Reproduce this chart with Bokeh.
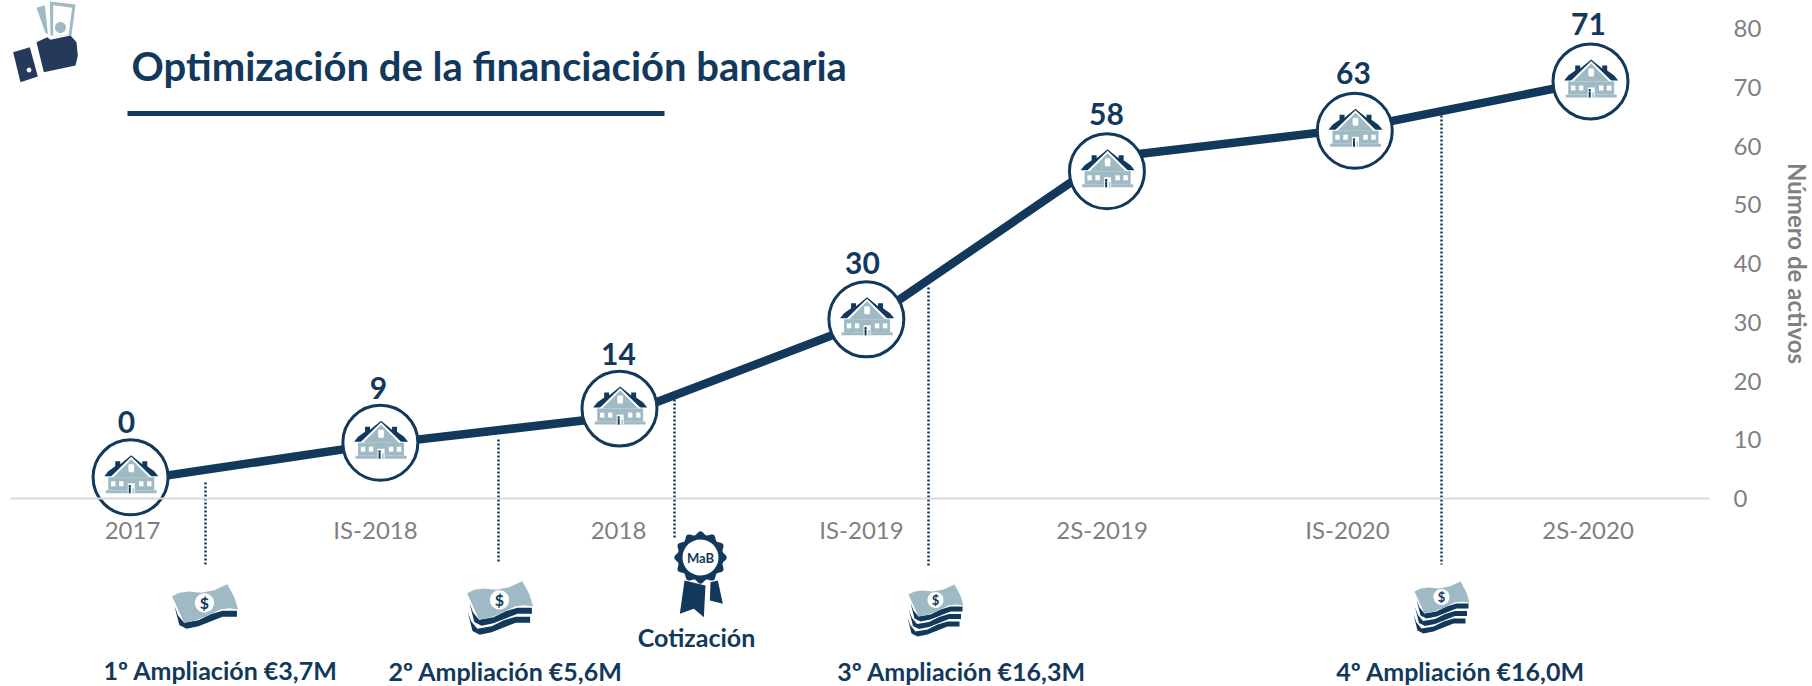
import numpy as np
from bokeh.core.properties import value
from bokeh.embed import file_html
from bokeh.models import FixedTicker, Range1d
from bokeh.plotting import figure
from bokeh.resources import INLINE

# ---- data ----
periods = ["2017", "IS-2018", "2018", "IS-2019", "2S-2019", "IS-2020", "2S-2020"]
tick_positions = [0, 1.0, 2, 3, 3.99, 5, 5.99]
labels = ["0", "9", "14", "30", "58", "63", "71"]
line_values = [3.0, 9.3, 14, 30, 58, 63, 71]
marker_values = [3.6, 9.5, 15.3, 30.5, 55.7, 62.6, 71]
point_x = [-0.008, 1.02, 2.004, 3.02, 4.01, 5.03, 6.0]
y_ticks = [0, 10, 20, 30, 40, 50, 60, 70, 80]
events = ["1º Ampliación €3,7M", "2º Ampliación €5,6M", "Cotización",
          "3º Ampliación €16,3M", "4º Ampliación €16,0M"]

NAVY = "#12395B"
LIGHT = "#9FBAC5"
GREY = "#7F7F7F"
HAND = "#25395A"

# page-pixel to data helpers, used for decoration only
X0, XS, Y0, YS = 132.0, 243.0, 498.0, 5.875
def dx(px): return (np.asarray(px, float) - X0) / XS
def dy(py): return (Y0 - np.asarray(py, float)) / YS

p = figure(width=1812, height=686, output_backend="svg", toolbar_location=None,
           x_range=Range1d(float(dx(0)), float(dx(1812))),
           y_range=Range1d(float(dy(686)), float(dy(0))),
           y_axis_location="right", min_border=0,
           min_border_left=0, min_border_right=0, min_border_top=0, min_border_bottom=0,
           background_fill_color="white", border_fill_color="white",
           outline_line_color=None)
p.grid.visible = False

xa = p.xaxis[0]
xa.fixed_location = 0
xa.bounds = (float(dx(10)), float(dx(1709)))
xa.ticker = FixedTicker(ticks=tick_positions)
xa.major_label_overrides = {t: s for t, s in zip(tick_positions, periods)}
xa.axis_line_color = "#D9D9D9"
xa.axis_line_width = 2
xa.major_tick_line_color = None
xa.minor_tick_line_color = None
xa.major_tick_out = 0
xa.major_tick_in = 0
xa.major_label_standoff = 16
xa.major_label_text_font = "Lato"
xa.major_label_text_font_size = "24px"
xa.major_label_text_color = GREY

ya = p.yaxis[0]
ya.fixed_location = float(dx(1709))
ya.ticker = FixedTicker(ticks=y_ticks)
ya.axis_line_color = None
ya.major_tick_line_color = None
ya.minor_tick_line_color = None
ya.major_tick_out = 0
ya.major_tick_in = 0
ya.major_label_standoff = 24
ya.major_label_text_font = "Lato"
ya.major_label_text_font_size = "24px"
ya.major_label_text_color = GREY

# y axis title
p.text([float(dx(1797))], [40], text=["Número de activos"], angle=-np.pi / 2,
       text_font=value("Lato"), text_font_style="bold", text_font_size="24px",
       text_color=GREY, text_align="center", text_baseline="middle")

# main line
p.line(point_x, line_values, line_color=NAVY, line_width=8.5)

# dotted leaders
lead_x = [205, 498, 674, 928, 1441]
lead_top = [482, 439, 399, 287, 115]
lead_bot = [564, 562, 538, 565, 564]
p.segment(dx(lead_x), dy(lead_top), dx(lead_x), dy(lead_bot),
          line_color=NAVY, line_width=2.5, line_dash="2 2")

# markers
p.scatter(point_x, marker_values, size=75, marker="circle", fill_color="white",
          line_color=NAVY, line_width=3)

def poly(pts, ox, oy, s=1.0, color=NAVY):
    a = np.array(pts, float)
    p.patch(dx(ox + a[:, 0] * s), dy(oy + a[:, 1] * s), fill_color=color, line_color=None)

def disc(cx, cy, r, color):
    t = np.linspace(0, 2 * np.pi, 40)
    p.patch(dx(cx + r * np.cos(t)), dy(cy + r * np.sin(t)), fill_color=color, line_color=None)

def house(cx, cy):
    ox = cx + 0.7
    poly([(-27, -1), (-23, -6), (-16, -11), (-16, -16), (-11, -16), (-11, -13), (0, -22),
          (11, -13), (11, -16), (16, -16), (16, -11), (23, -6), (27, -1)], ox, cy)
    poly([(-21, 0), (0, -20.5), (21, 0)], ox, cy, color="white")
    poly([(-18, 0), (0, -18), (18, 0)], ox, cy, color=LIGHT)
    poly([(-23, 0), (23, 0), (23, 13), (-23, 13)], ox, cy, color=LIGHT)
    poly([(-25.5, 13), (25.5, 13), (25.5, 16), (-25.5, 16)], ox, cy, color=LIGHT)
    poly([(-2.5, -13), (2.5, -13), (3, -10), (2.5, -5), (-2.5, -5), (-3, -10)], ox, cy, color="white")
    for wx in (-18, -10, 10, 18):
        poly([(wx - 2.2, 4), (wx + 2.2, 4), (wx + 2.2, 9), (wx - 2.2, 9)], ox, cy, color="white")
    poly([(-3.5, 6), (3.5, 6), (3.5, 16), (-3.5, 16)], ox, cy, color="white")
    poly([(-2.5, 10), (-0.5, 10), (-0.5, 16), (-2.5, 16)], ox, cy)
    disc(ox - 1.5, 8.8 + cy, 1.2, NAVY)
    poly([(1.2, 11), (2.6, 11), (2.6, 16), (1.2, 16)], ox, cy, color=LIGHT)

for x, v in zip(point_x, marker_values):
    house(X0 + x * XS, Y0 - v * YS)

# money bills
BILL = [(8, 19), (14, 16), (22, 15), (32, 16), (43, 14), (54, 9), (60, 20), (63, 30), (56, 29),
        (48, 30), (38, 35), (28, 39), (18, 41)]
STRIPE = [(10, 27), (13, 35), (18, 41), (30, 39), (40, 34), (50, 31), (62, 31),
          (62, 36), (50, 36), (40, 40), (30, 44), (20, 46), (14, 43)]
def bill(ox, oy, s, n):
    for k in range(n):
        poly([(a - 1.5 * k, b + 7.5 * k) for a, b in STRIPE], ox, oy, s)
    poly(BILL, ox, oy, s, LIGHT)
    disc(ox + 35 * s, oy + 24.5 * s, 8 * s, "white")
    p.text([float(dx(ox + 35 * s))], [float(dy(oy + 24.5 * s))], text=["$"], text_color=NAVY,
           text_font=value("Lato"), text_font_style="bold", text_font_size=f"{13 * s:.0f}px",
           text_align="center", text_baseline="middle")

bill(162, 573, 1.2, 1)
bill(457, 570, 1.2, 2)
bill(900, 575, 1.0, 3)
bill(1406, 572, 1.0, 3)

# rosette
rx, ry = 700, 557
poly([(72, 165), (135, 180), (130, 275), (100, 250), (58, 265)], 660, 525, 1 / 3)
poly([(150, 170), (172, 165), (187, 235), (148, 225)], 660, 525, 1 / 3)
t = np.linspace(0, 2 * np.pi, 145)
r = 24.5 + 1.7 * np.cos(12 * t)
p.patch(dx(rx + r * np.cos(t)), dy(ry + r * np.sin(t)), fill_color=NAVY, line_color=None)
disc(rx, ry, 18, "white")
p.text([float(dx(rx))], [float(dy(ry))], text=["MaB"], text_color=NAVY, text_font=value("Lato"),
       text_font_style="bold", text_font_size="13px", text_align="center", text_baseline="middle")

# hand icon
S = 1 / 3
poly([(108, 22), (133, 14), (142, 100), (135, 98)], 0, 0, S, LIGHT)
poly([(148, 3), (225, 12), (213, 105), (150, 105)], 0, 0, S, LIGHT)
poly([(158, 14), (215, 22), (204, 105), (158, 105)], 0, 0, S, "white")
disc(60, 27, 5.5, LIGHT)
poly([(108, 125), (140, 110), (150, 118), (210, 105), (228, 125), (232, 165), (225, 195),
      (130, 215)], 0, 0, S, HAND)
poly([(38, 155), (88, 140), (112, 228), (60, 245)], 0, 0, S, HAND)
disc(28.5, 69.5, 2.4, "white")

# data labels
lab_x = [126, 378, 618, 862, 1106, 1353, 1588]
lab_y = [421, 387, 353, 262, 113, 72, 23]
p.text(dx(lab_x), dy(lab_y), text=labels, text_color=NAVY, text_font=value("Lato"),
       text_font_style="bold", text_font_size="30px", text_align="center", text_baseline="middle")

# event captions
ev_x = [220, 505, 696, 961, 1460]
ev_y = [669, 670, 636, 670, 670]
p.text(dx(ev_x), dy(ev_y), text=events, text_color=NAVY, text_font=value("Lato"),
       text_font_style="bold", text_font_size="25px", text_align="center", text_baseline="middle")

# title
p.text([float(dx(131))], [float(dy(65))], text=["Optimización de la financiación bancaria"],
       text_color=NAVY, text_font=value("Lato"), text_font_style="bold", text_font_size="40px",
       text_align="left", text_baseline="middle")
p.segment([float(dx(127))], [float(dy(113))], [float(dx(664))], [float(dy(113))],
          line_color=NAVY, line_width=5)

open("out.html", "w").write(file_html(p, INLINE))
